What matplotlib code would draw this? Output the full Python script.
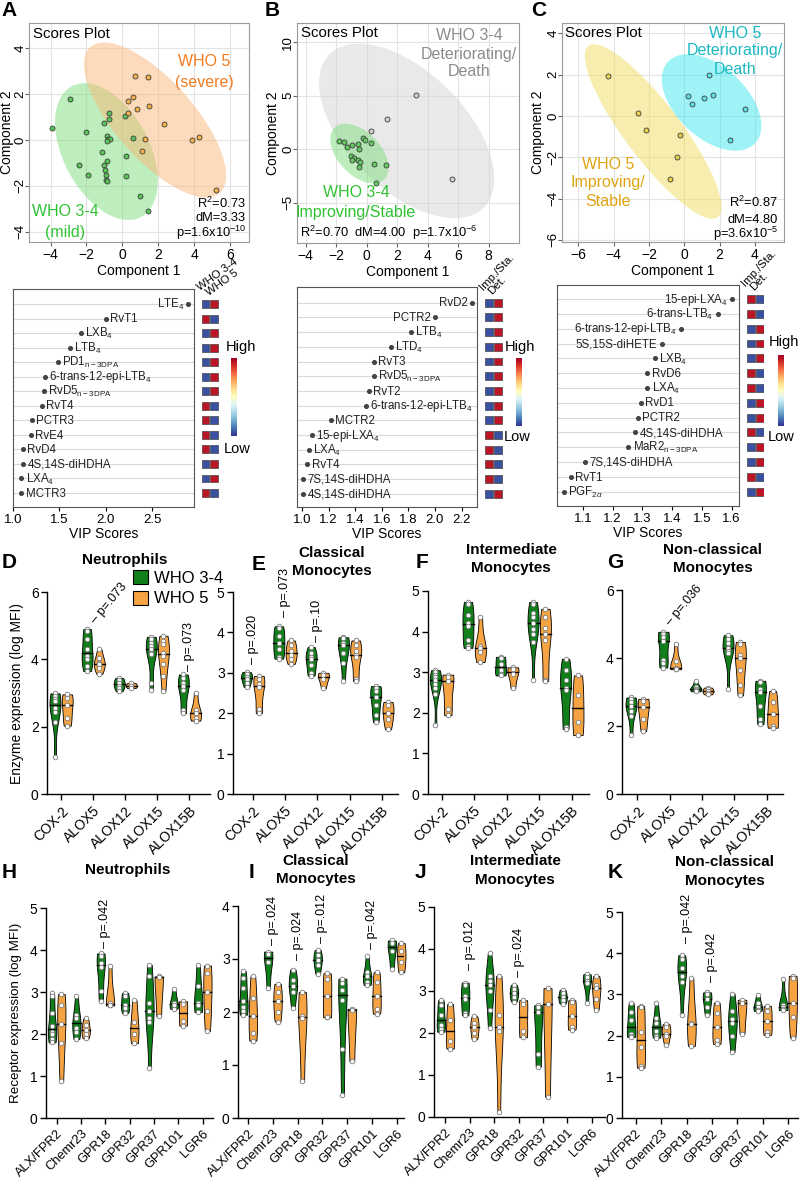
import numpy as np
import matplotlib
matplotlib.use('Agg')
import matplotlib.pyplot as plt
from matplotlib.patches import Patch
from matplotlib.ticker import FormatStrFormatter

plt.rcParams['font.family'] = ['Liberation Sans', 'DejaVu Sans']
plt.rcParams['mathtext.fontset'] = 'custom'
plt.rcParams['mathtext.rm'] = 'Liberation Sans'
plt.rcParams['mathtext.it'] = 'Liberation Sans:italic'
plt.rcParams['mathtext.bf'] = 'Liberation Sans:bold'

# ---------------- A-C: sPLS-DA scores ----------------
a_mild_x = [-2.94, -3.94, -2.02, -0.76, -0.76, -1.04, 0.13, -0.87, -0.78, -0.67, -0.87, 0.57, -1.13,
            -0.87, -1.04, -2.43, -0.96, -1.93, -0.93, -0.94, -0.85, 0.22, 0.22, 0.96, 1.4]
a_mild_y = [1.77, 0.51, 0.33, 1.16, 0.91, 0.72, 1.03, 0.17, 0.03, 0.03, -0.06, 0.07, -0.51,
            -0.91, -1.09, -1.1, -1.3, -1.55, -1.52, -1.75, -1.81, -0.72, -1.58, -2.43, -3.1]
a_sev_x = [0.68, 1.41, 0.61, 0.29, 1.5, 0.79, 0.33, 2.3, 1.28, 1.11, 3.87, 4.28, 5.2]
a_sev_y = [2.81, 2.74, 1.88, 1.72, 1.48, 1.36, 1.16, 0.68, 0.03, -0.49, -0.01, 0.13, -2.17]

b_stab_x = [-1.79, -1.45, -1.3, -0.97, -0.54, -0.26, -0.08, -0.47, 0.32, -1.01, -0.84, -0.97,
            -0.58, -0.45, -0.47, 0.52, 1.26, 0.63]
b_stab_y = [0.74, 0.68, 0.22, 0.43, 0.52, 1.05, 0.83, 0.06, 0.62, -0.62, -0.8, -1.02,
            -0.96, -1.23, -1.64, -1.33, -1.48, -3.15]
b_det_x = [3.25, 1.36, 5.63, 0.28]
b_det_y = [5.1, 2.87, -2.8, 1.67]

c_stab_x = [-4.32, -2.65, -2.16, -0.25, -0.4, -0.81]
c_stab_y = [1.94, 0.16, -0.67, -0.9, -2.0, -3.04]
c_det_x = [1.4, 0.23, 0.42, 1.1, 1.63, 3.45, 2.6]
c_det_y = [1.97, 0.98, 0.59, 0.85, 1.03, 0.32, -1.17]

# ---------------- VIP scores + group heat (1 = high) ----------------
vip_a_names = ['LTE$_4$', 'RvT1', 'LXB$_4$', 'LTB$_4$', 'PD1$_{\\mathregular{n-3DPA}}$',
               '6-trans-12-epi-LTB$_4$', 'RvD5$_{\\mathregular{n-3DPA}}$', 'RvT4', 'PCTR3', 'RvE4',
               'RvD4', '4S,14S-diHDHA', 'LXA$_4$', 'MCTR3']
vip_a = [2.89, 2.0, 1.73, 1.61, 1.48, 1.34, 1.33, 1.31, 1.2, 1.19, 1.11, 1.11, 1.09, 1.09]
heat_a = [[0, 1], [1, 0], [0, 1], [0, 1], [0, 1], [0, 1], [0, 1], [1, 0], [1, 0], [1, 0],
          [1, 0], [0, 1], [0, 1], [1, 0]]

vip_b_names = ['RvD2', 'PCTR2', 'LTB$_4$', 'LTD$_4$', 'RvT3', 'RvD5$_{\\mathregular{n-3DPA}}$', 'RvT2',
               '6-trans-12-epi-LTB$_4$', 'MCTR2', '15-epi-LXA$_4$', 'LXA$_4$', 'RvT4',
               '7S,14S-diHDHA', '4S,14S-diHDHA']
vip_b = [2.28, 2.0, 1.82, 1.67, 1.54, 1.54, 1.5, 1.48, 1.22, 1.075, 1.05, 1.04, 1.01, 1.01]
heat_b = [[0, 1]] * 9 + [[1, 0], [1, 0], [1, 0], [1, 0], [0, 1]]

vip_c_names = ['15-epi-LXA$_4$', '6-trans-LTB$_4$', '6-trans-12-epi-LTB$_4$', '5S,15S-diHETE',
               'LXB$_4$', 'RvD6', 'LXA$_4$', 'RvD1', 'PCTR2', '4S,14S-diHDHA',
               'MaR2$_{\\mathregular{n-3DPA}}$', '7S,14S-diHDHA', 'RvT1', 'PGF$_{2\\alpha}$']
vip_c = [1.603, 1.553, 1.429, 1.365, 1.342, 1.317, 1.317, 1.296, 1.285, 1.276, 1.253, 1.108, 1.06, 1.035]
heat_c = [[1, 0], [1, 0], [0, 1], [0, 1], [0, 1], [1, 0], [1, 0], [0, 1], [0, 1], [1, 0],
          [0, 1], [0, 1], [1, 0], [0, 1]]

# ---------------- D-G: enzyme expression (log MFI) ----------------
enz_cats = ['COX-2', 'ALOX5', 'ALOX12', 'ALOX15', 'ALOX15B']
neut_enz_34 = [[2.99, 2.9, 2.82, 2.75, 2.55, 2.45, 2.15, 1.09],
               [4.9, 4.85, 4.6, 4.3, 4.1, 4.0, 3.8, 3.65],
               [3.45, 3.38, 3.3, 3.22, 3.15, 3.05],
               [4.67, 4.6, 4.5, 4.4, 4.3, 4.2, 4.15, 3.3, 3.1],
               [3.55, 3.45, 3.3, 3.2, 3.1, 2.5, 2.4]]
neut_enz_5 = [[2.96, 2.85, 2.65, 2.25, 2.03],
              [4.3, 4.05, 3.9, 3.85, 3.75, 3.57],
              [3.3, 3.22, 3.15],
              [4.7, 4.55, 4.45, 4.2, 4.1, 3.85, 3.5, 3.05],
              [3.0, 2.5, 2.4, 2.25, 2.18]]
clas_enz_34 = [[3.02, 2.97, 2.9, 2.85, 2.75, 2.65],
               [4.15, 4.1, 3.9, 3.75, 3.6, 3.4, 3.35],
               [3.64, 3.5, 3.4, 3.35, 3.2, 3.0, 2.93],
               [3.88, 3.85, 3.75, 3.68, 3.5, 3.25, 2.8],
               [2.67, 2.62, 2.55, 2.4, 2.2, 1.95, 1.78]]
clas_enz_5 = [[2.92, 2.85, 2.72, 2.65, 2.1, 2.0],
              [3.8, 3.7, 3.55, 3.45, 3.35, 3.22],
              [3.0, 2.95, 2.85, 2.62],
              [3.8, 3.7, 3.55, 3.45, 3.4, 2.85, 2.8],
              [2.28, 2.2, 2.0, 1.85, 1.6]]
inter_enz_34 = [[3.05, 3.0, 2.92, 2.88, 2.8, 2.7, 2.62, 2.47, 1.7],
                [4.73, 4.68, 4.4, 4.22, 4.15, 3.8, 3.65, 3.6],
                [3.38, 3.36, 3.2, 3.05, 2.96, 2.92],
                [4.73, 4.68, 4.45, 4.35, 4.2, 4.07, 3.95, 3.75, 2.8],
                [3.33, 3.05, 2.8, 2.6, 2.55, 1.65, 1.6]]
inter_enz_5 = [[2.94, 2.88, 2.78, 2.1, 1.94],
               [4.35, 3.65, 3.6, 3.5, 3.25],
               [3.12, 3.08, 2.95, 2.6],
               [4.56, 4.36, 4.1, 3.95, 3.8, 2.82, 2.78],
               [2.92, 2.45, 1.78, 1.45]]
nonc_enz_34 = [[2.84, 2.78, 2.72, 2.6, 2.45, 2.3, 1.75],
               [4.77, 4.72, 4.62, 4.5, 3.95, 3.85, 3.72],
               [3.33, 3.15, 3.1, 3.05, 3.02],
               [4.67, 4.57, 4.45, 4.3, 4.2, 4.15, 3.1],
               [3.33, 3.28, 3.1, 3.0, 2.6, 2.2, 2.05]]
nonc_enz_5 = [[2.8, 2.75, 2.55, 2.2, 1.85],
              [4.4, 3.9, 3.72, 3.69, 3.67],
              [3.13, 3.08, 3.03, 2.98, 2.93],
              [4.47, 4.4, 4.1, 4.0, 3.65, 3.2, 2.9],
              [3.03, 2.72, 2.35, 2.0, 1.95]]

# ---------------- H-K: receptor expression (log MFI) ----------------
rec_cats = ['ALX/FPR2', 'Chemr23', 'GPR18', 'GPR32', 'GPR37', 'GPR101', 'LGR6']
neut_rec_34 = [[2.98, 2.9, 2.5, 2.2, 2.05, 2.0, 1.87, 1.8],
               [2.9, 2.45, 2.37, 2.15, 2.05, 1.88],
               [3.92, 3.85, 3.7, 3.6, 3.02, 2.78],
               [2.98, 2.9, 2.7, 2.62, 2.5],
               [3.65, 3.37, 2.75, 2.55, 2.38, 2.28, 1.19],
               [3.06, 2.75, 2.68, 2.6],
               [3.65, 3.15, 2.75, 2.68, 2.52]]
neut_rec_5 = [[2.95, 2.7, 2.25, 1.78, 0.88],
              [2.38, 2.22, 2.1, 2.0, 1.9],
              [3.62, 2.75, 2.7, 2.68],
              [2.8, 2.28, 2.0, 1.78],
              [3.37, 3.35, 2.42],
              [2.78, 2.72, 2.3, 2.2],
              [3.63, 3.45, 3.0, 2.54, 2.07]]
clas_rec_34 = [[2.77, 2.65, 2.45, 2.2, 2.1, 2.02, 1.95],
               [3.14, 3.1, 2.95, 2.45],
               [2.8, 2.6, 2.5, 2.38, 2.07],
               [3.17, 3.07, 2.98, 2.88, 2.72],
               [2.63, 2.55, 2.42, 2.22, 1.3, 0.44],
               [3.05, 2.75, 2.68, 2.57, 2.51],
               [3.35, 3.3, 3.15, 2.82]]
clas_rec_5 = [[2.67, 2.27, 1.93, 1.6, 1.46],
              [2.53, 2.38, 2.2, 2.0, 1.82],
              [2.38, 1.92, 1.88, 0.69],
              [2.73, 2.63, 2.3, 1.91, 1.9],
              [2.06, 2.04, 1.07],
              [2.75, 2.57, 2.3, 2.05, 1.97],
              [3.3, 3.15, 2.95, 2.75]]
inter_rec_34 = [[2.78, 2.67, 2.43, 2.2, 2.1, 2.03],
                [3.2, 3.15, 2.87, 2.8, 2.47, 2.42],
                [3.9, 3.35, 3.25, 3.15, 3.0, 2.55, 2.12],
                [3.15, 3.05, 2.95, 2.85, 2.75],
                [2.66, 2.63, 2.5, 1.5, 1.2],
                [3.03, 2.95, 2.85, 2.78, 2.7],
                [3.4, 3.34, 3.25, 3.18, 2.72]]
inter_rec_5 = [[2.69, 2.3, 1.8, 1.63],
               [2.4, 2.25, 2.15, 1.99, 1.85],
               [3.36, 2.42, 2.15, 2.05, 0.12],
               [2.78, 2.7, 2.05, 1.9],
               [3.07, 2.7, 0.48],
               [2.78, 2.73, 2.4, 2.15, 2.08],
               [3.36, 3.15, 3.07, 2.8, 2.55]]
nonc_rec_34 = [[2.8, 2.58, 2.38, 2.05, 2.0, 1.97],
               [2.8, 2.42, 2.3, 2.1, 2.0, 1.95],
               [3.95, 3.87, 3.65, 3.45, 3.3, 2.5],
               [3.05, 3.02, 2.88, 2.7, 2.5],
               [3.02, 2.6, 2.4, 2.3, 2.0, 1.6],
               [2.98, 2.8, 2.7, 2.62, 2.6],
               [3.38, 2.75, 2.7, 2.65, 2.62]]
nonc_rec_5 = [[2.72, 2.7, 2.08, 1.73, 1.27, 1.22],
              [2.28, 2.2, 2.05, 2.0, 1.78],
              [3.4, 2.3, 2.28, 1.75],
              [2.8, 2.55, 2.2, 1.9, 1.8],
              [2.87, 2.8, 2.05],
              [2.72, 2.6, 2.35, 2.08, 2.02],
              [3.45, 3.4, 2.8, 2.45, 1.95]]

# p-values: (category position, y where the mark starts, label, text angle)
neut_enz_p = [(1.0, 5.1, '.073', 50), (4.0, 3.65, '.073', 90)]
clas_enz_p = [(0.0, 3.23, '.020', 90), (1.0, 4.37, '.073', 90), (2.0, 3.75, '.10', 90)]
nonc_enz_p = [(0.96, 5.0, '.036', 50)]
neut_rec_p = [(2.0, 4.05, '.042', 90)]
clas_rec_p = [(1.0, 3.27, '.024', 90), (2.0, 2.99, '.024', 90), (3.0, 3.31, '.012', 90),
              (5.0, 3.18, '.042', 90)]
inter_rec_p = [(1.0, 3.5, '.012', 90), (3.0, 3.33, '.024', 90)]
nonc_rec_p = [(2.0, 4.24, '.042', 90), (3.0, 3.3, '.042', 90)]

GREEN = '#11801a'
ORANGE = '#f6a443'

W, H = 800.0, 1178.0
fig = plt.figure(figsize=(8, 11.78), dpi=100)


def add_box(l, t, r, b):
    return fig.add_axes([l / W, 1 - b / H, (r - l) / W, (b - t) / H])


def ftext(x, y, s, **kw):
    kw.setdefault('ha', 'center')
    kw.setdefault('va', 'center')
    return fig.text(x / W, 1 - y / H, s, **kw)


def set_ylabel_px(ax, box, x_px):
    ax.yaxis.set_label_coords((x_px - box[0]) / (box[2] - box[0]), 0.5)


def conf_ellipse(ax, x, y, color, alpha):
    # 95% confidence region of the group
    x = np.asarray(x)
    y = np.asarray(y)
    vals, vecs = np.linalg.eigh(np.cov(x, y))
    t = np.linspace(0, 2 * np.pi, 200)
    circ = np.vstack([np.cos(t), np.sin(t)]) * np.sqrt(5.991)
    pts = vecs @ (np.sqrt(vals)[:, None] * circ)
    ax.fill(x.mean() + pts[0], y.mean() + pts[1], color=color, alpha=alpha, lw=0, zorder=1)


def scores_panel(box, groups, xlim, ylim, xt, yt, ylab_x):
    ax = add_box(*box)
    for gx, gy, fill, pt in groups:
        conf_ellipse(ax, gx, gy, fill, 0.5)
    for gx, gy, fill, pt in groups:
        ax.scatter(gx, gy, s=13, facecolor=pt, edgecolor='#3c3c3c', linewidth=0.6, zorder=3)
    ax.set_xlim(xlim)
    ax.set_ylim(ylim)
    ax.set_xticks(xt)
    ax.set_yticks(yt)
    ax.grid(True, color='#e3e3e3', lw=0.8)
    ax.set_axisbelow(True)
    for s in ax.spines.values():
        s.set_color('#9a9a9a')
        s.set_linewidth(0.8)
    ax.tick_params(length=3, color='#666', labelsize=10, pad=1.5)
    ax.tick_params(axis='y', labelsize=9.5, pad=1)
    plt.setp(ax.get_yticklabels(), rotation=90, rotation_mode='anchor', ha='center', va='baseline')
    ax.set_xlabel('Component 1', fontsize=10, labelpad=1)
    ax.set_ylabel('Component 2', fontsize=10)
    set_ylabel_px(ax, box, ylab_x)
    return ax


def vip_panel(box, names, scores, n_left, xlim, ylim, xt, fmt):
    ax = add_box(*box)
    rows = np.arange(len(names))
    ax.scatter(scores, rows, s=7, color='#444', zorder=3)
    for i, (nm, sc) in enumerate(zip(names, scores)):
        if i < n_left:
            ax.annotate(nm, (sc, i), xytext=(-3, -0.5), textcoords='offset points',
                        ha='right', va='center', fontsize=8.3, color='#222')
        else:
            ax.annotate(nm, (sc, i), xytext=(3, -0.5), textcoords='offset points',
                        ha='left', va='center', fontsize=8.3, color='#222')
    ax.set_yticks(rows)
    ax.set_yticklabels([])
    ax.tick_params(axis='y', length=0)
    ax.tick_params(axis='x', length=3, labelsize=9.5, pad=2)
    ax.grid(axis='y', color='#dadada', lw=0.8)
    ax.set_axisbelow(True)
    for s in ax.spines.values():
        s.set_color('#555')
        s.set_linewidth(0.8)
    ax.set_xlim(xlim)
    ax.set_ylim(ylim)
    ax.set_xticks(xt)
    ax.xaxis.set_major_formatter(FormatStrFormatter(fmt))
    ax.set_xlabel('VIP Scores', fontsize=10, labelpad=1)
    return ax


def heat_panel(c0, c1, ylim, top, bottom, heat, heads, angle):
    step = c1 - c0
    ax = add_box(c0 - 0.55 * step, top, c1 + 0.55 * step, bottom)
    h = np.asarray(heat)
    cols, rows = np.meshgrid([0, 1], np.arange(len(h)))
    ax.scatter(cols.ravel(), rows.ravel(), c=h.ravel(), cmap='RdYlBu_r', vmin=-0.05, vmax=1.05,
               marker='s', s=33, edgecolors='#444', linewidths=0.5)
    ax.set_xlim(-0.55, 1.55)
    ax.set_ylim(ylim)
    ax.axis('off')
    for j, txt in enumerate(heads):
        ax.text(j - 0.5, -0.75 + 0.3 * j, txt, rotation=angle, ha='left', va='bottom',
                rotation_mode='anchor', fontsize=8.2, clip_on=False)


def color_key(l, t, r, b, high_xy, low_xy):
    cax = add_box(l, t, r, b)
    cax.imshow(np.linspace(1, 0, 100)[:, None], aspect='auto', cmap='RdYlBu_r')
    cax.axis('off')
    ftext(high_xy[0], high_xy[1], 'High', ha='left', fontsize=10.5)
    ftext(low_xy[0], low_xy[1], 'Low', ha='left', fontsize=10.5)


def draw_violins(ax, data, pos, color):
    parts = ax.violinplot(data, positions=pos, widths=0.34, showextrema=False)
    for d, p, body in zip(data, pos, parts['bodies']):
        body.set_facecolor(color)
        body.set_edgecolor('black')
        body.set_linewidth(0.6)
        body.set_alpha(1)
        body.set_clip_on(False)
        v = body.get_paths()[0].vertices
        right = v[v[:, 0] >= p]
        order = np.argsort(right[:, 1])
        med = np.median(d)
        half = np.interp(med, right[order, 1], right[order, 0]) - p
        ax.plot([p - half, p + half], [med, med], color='black', lw=1.0, zorder=2.5)
        ax.scatter(np.full(len(d), p), d, s=11, facecolor='white', edgecolor='#7a7a7a',
                   linewidth=0.6, zorder=3, clip_on=False)


def violin_panel(box, cats, d34, d5, xlim, ylim, yt, pvals, fs_tick):
    ax = add_box(*box)
    pos = np.arange(len(cats))
    draw_violins(ax, d34, pos - 0.19, GREEN)
    draw_violins(ax, d5, pos + 0.19, ORANGE)
    ax.set_xlim(xlim)
    ax.set_ylim(ylim)
    ax.set_yticks(yt)
    ax.set_xticks(pos)
    ax.set_xticklabels(cats, rotation=45, ha='right', rotation_mode='anchor', fontsize=fs_tick)
    ax.tick_params(axis='y', labelsize=10, length=4, width=1, pad=2)
    ax.tick_params(axis='x', length=4, width=1, pad=3)
    for s in ['top', 'right']:
        ax.spines[s].set_visible(False)
    for s in ['left', 'bottom']:
        ax.spines[s].set_linewidth(1)
    for xp, yp, lab, rot in pvals:
        ax.text(xp, yp, '\u2013 p=' + lab, rotation=rot, rotation_mode='anchor', ha='left',
                va='center', fontsize=9, clip_on=False)
    return ax


# ---- A
scores_panel((29, 23, 249, 242),
             [(a_mild_x, a_mild_y, '#7fdc7f', '#58c458'), (a_sev_x, a_sev_y, '#f9b878', '#f3b04c')],
             (-5.2, 7.05), (-4.45, 5.1), [-4, -2, 0, 2, 4, 6], [-4, -2, 0, 2, 4], 14)
ftext(33, 34, 'Scores Plot', ha='left', fontsize=10.8)
ftext(204, 62, 'WHO 5', color='#f47b20', fontsize=11.5)
ftext(204, 82, '(severe)', color='#f47b20', fontsize=11.5)
ftext(65, 211, 'WHO 3-4', color='#2fc232', fontsize=11.5)
ftext(65, 232, '(mild)', color='#2fc232', fontsize=11.5)
ftext(246, 203, 'R$^2$=0.73', ha='right', fontsize=9.3)
ftext(246, 218, 'dM=3.33', ha='right', fontsize=9.3)
ftext(246, 233, 'p=1.6x10$^{-10}$', ha='right', fontsize=9.3)

# ---- B
scores_panel((297, 23, 519, 243),
             [(b_det_x, b_det_y, '#d4d4d4', '#cfcfcf'), (b_stab_x, b_stab_y, '#7fdc7f', '#62cc62')],
             (-4.56, 10.0), (-8.74, 11.78), [-4, -2, 0, 2, 4, 6, 8], [-5, 0, 5, 10], 280)
ftext(301, 33, 'Scores Plot', ha='left', fontsize=10.8)
ftext(469, 36, 'WHO 3-4', color='#8c8c8c', fontsize=11.5)
ftext(469, 54, 'Deteriorating/', color='#8c8c8c', fontsize=11.5)
ftext(469, 72, 'Death', color='#8c8c8c', fontsize=11.5)
ftext(356, 193, 'WHO 3-4', color='#2fc232', fontsize=11.5)
ftext(356, 212, 'Improving/Stable', color='#2fc232', fontsize=11.5)
ftext(300, 233, 'R$^2$=0.70  dM=4.00  p=1.7x10$^{-6}$', ha='left', fontsize=9.3)

# ---- C
scores_panel((562, 23, 784, 242),
             [(c_stab_x, c_stab_y, '#f0dc60', '#e6d04c'), (c_det_x, c_det_y, '#40e8ee', '#5fe0e8')],
             (-6.93, 5.65), (-6.1, 4.5), [-6, -4, -2, 0, 2, 4], [-6, -4, -2, 0, 2, 4], 545)
ftext(565, 33, 'Scores Plot', ha='left', fontsize=10.8)
ftext(735, 33, 'WHO 5', color='#1cb9c2', fontsize=11.5)
ftext(735, 51, 'Deteriorating/', color='#1cb9c2', fontsize=11.5)
ftext(735, 69, 'Death', color='#1cb9c2', fontsize=11.5)
ftext(608, 165, 'WHO 5', color='#e0a412', fontsize=11.5)
ftext(608, 183, 'Improving/', color='#e0a412', fontsize=11.5)
ftext(608, 202, 'Stable', color='#e0a412', fontsize=11.5)
ftext(778, 202, 'R$^2$=0.87', ha='right', fontsize=9.3)
ftext(778, 220, 'dM=4.80', ha='right', fontsize=9.3)
ftext(778, 234, 'p=3.6x10$^{-5}$', ha='right', fontsize=9.3)

# ---- VIP panels
ylim_a = (13.96, -1.03)
vip_panel((13, 289, 194, 507), vip_a_names, vip_a, 1, (1.0, 2.95), ylim_a, [1.0, 1.5, 2.0, 2.5], '%.1f')
heat_panel(205.5, 214.0, ylim_a, 289, 507, heat_a, ['WHO 3-4', 'WHO 5'], 36)
color_key(231, 358, 237, 436, (226, 347), (224, 449))

ylim_b = (13.9, -1.07)
vip_panel((297, 287, 477, 507), vip_b_names, vip_b, 2, (0.962, 2.316), ylim_b,
          [1.0, 1.2, 1.4, 1.6, 1.8, 2.0, 2.2], '%.1f')
heat_panel(489.2, 498.3, ylim_b, 287, 507, heat_b, ['Imp./Sta.', 'Det.'], 47)
color_key(516, 358, 522, 426, (505, 347), (504, 437))

ylim_c = (13.97, -0.95)
vip_panel((557, 285, 739, 506), vip_c_names, vip_c, 4, (1.013, 1.625), ylim_c,
          [1.1, 1.2, 1.3, 1.4, 1.5, 1.6], '%.1f')
heat_panel(751.2, 759.7, ylim_c, 285, 506, heat_c, ['Imp./Sta.', 'Det.'], 47)
color_key(778, 355, 784, 426, (769, 342), (768, 437))

# ---- D-G
boxD = (47, 592, 210, 794)
axD = violin_panel(boxD, enz_cats, neut_enz_34, neut_enz_5, (-0.44, 4.64), (0, 6),
                   [0, 2, 4, 6], neut_enz_p, 10)
axD.set_ylabel('Enzyme expression (log MFI)', fontsize=10)
set_ylabel_px(axD, boxD, 24)
violin_panel((233, 592, 398, 794), enz_cats, clas_enz_34, clas_enz_5, (-0.61, 4.5), (0, 5),
             [0, 1, 2, 3, 4, 5], clas_enz_p, 10)
violin_panel((428, 591, 589, 794), enz_cats, inter_enz_34, inter_enz_5, (-0.42, 4.53), (0, 5),
             [0, 1, 2, 3, 4, 5], [], 10)
violin_panel((622, 590, 783, 794), enz_cats, nonc_enz_34, nonc_enz_5, (-0.47, 4.51), (0, 6),
             [0, 2, 4, 6], nonc_enz_p, 10)

fig.legend(handles=[Patch(facecolor=GREEN, edgecolor='black', lw=0.8, label='WHO 3-4'),
                    Patch(facecolor=ORANGE, edgecolor='black', lw=0.8, label='WHO 5')],
           loc='upper left', bbox_to_anchor=(133 / W, 1 - 570 / H), frameon=False, fontsize=12,
           handlelength=0.9, handleheight=0.9, handletextpad=0.35, labelspacing=0.3,
           borderpad=0, borderaxespad=0)

# ---- H-K
boxH = (46, 908, 213, 1118)
axH = violin_panel(boxH, rec_cats, neut_rec_34, neut_rec_5, (-0.44, 6.42), (0, 5),
                   [0, 1, 2, 3, 4, 5], neut_rec_p, 9.3)
axH.set_ylabel('Receptor expression (log MFI)', fontsize=9.6)
set_ylabel_px(axH, boxH, 22)
violin_panel((238, 906, 404, 1118), rec_cats, clas_rec_34, clas_rec_5, (-0.41, 6.3), (0, 4),
             [0, 1, 2, 3, 4], clas_rec_p, 9.3)
violin_panel((434, 907, 605, 1117), rec_cats, inter_rec_34, inter_rec_5, (-0.47, 6.55), (0, 5),
             [0, 1, 2, 3, 4, 5], inter_rec_p, 9.3)
violin_panel((622, 912, 798, 1118), rec_cats, nonc_rec_34, nonc_rec_5, (-0.55, 6.4), (0, 5),
             [0, 1, 2, 3, 4, 5], nonc_rec_p, 9.3)

# ---- titles and panel letters
for x, y, s in [(125, 560, 'Neutrophils'), (332, 553, 'Classical'), (332, 571, 'Monocytes'),
                (511, 550, 'Intermediate'), (511, 568, 'Monocytes'),
                (713, 550, 'Non-classical'), (713, 568, 'Monocytes'),
                (128, 870, 'Neutrophils'), (316, 861, 'Classical'), (316, 879, 'Monocytes'),
                (515, 861, 'Intermediate'), (515, 880, 'Monocytes'),
                (725, 862, 'Non-classical'), (725, 881, 'Monocytes')]:
    ftext(x, y, s, fontsize=11, fontweight='bold')

for x, y, s in [(9, 11, 'A'), (272, 11, 'B'), (539, 11, 'C'),
                (9, 563, 'D'), (259, 565, 'E'), (422, 563, 'F'), (615, 563, 'G'),
                (9, 872, 'H'), (252, 872, 'I'), (420, 873, 'J'), (615, 873, 'K')]:
    ftext(x, y, s, fontsize=15, fontweight='bold')

fig.savefig('out.png', dpi=100)
